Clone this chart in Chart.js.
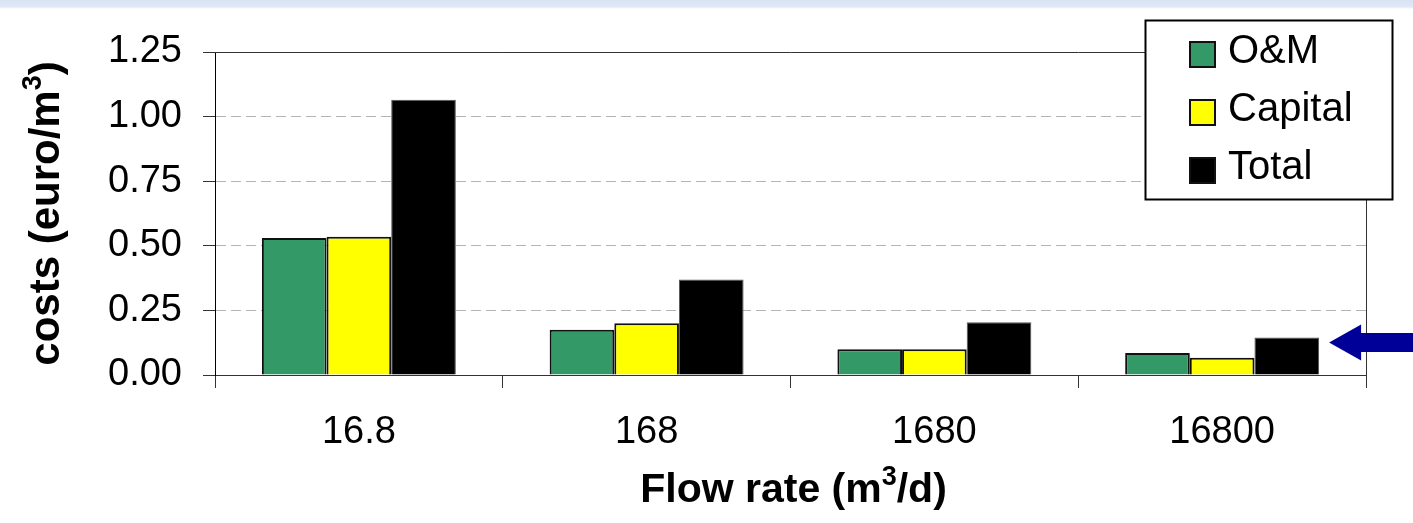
<!DOCTYPE html>
<html>
<head>
<meta charset="utf-8">
<script src="https://cdn.jsdelivr.net/npm/chart.js@4.4.1/dist/chart.umd.min.js"></script>
<style>
  html, body { margin: 0; padding: 0; background: #ffffff; overflow: hidden; }
  #wrap { width: 1413px; height: 523px; }
</style>
</head>
<body>
<div id="wrap"><canvas id="costChart" width="1413" height="523"></canvas></div>
<script>
// Treatment cost per cubic metre at four plant sizes
const flowRates = ['16.8', '168', '1680', '16800'];
const omCosts = [0.53, 0.175, 0.10, 0.085];
const capitalCosts = [0.535, 0.20, 0.10, 0.067];
const totalCosts = [1.065, 0.37, 0.204, 0.145];
const yTickValues = [0, 0.25, 0.50, 0.75, 1.00, 1.25];
const seriesNames = ['O&M', 'Capital', 'Total'];
const seriesColors = ['#339966', '#ffff00', '#000000'];

const FONT = "'Liberation Sans', Arial, sans-serif";

// light slide band along the top edge
const slideBand = {
  id: 'slideBand',
  beforeDraw(chart) {
    const ctx = chart.ctx;
    ctx.save();
    const g = ctx.createLinearGradient(0, 0, 0, 9);
    g.addColorStop(0, '#d8e3f3');
    g.addColorStop(0.75, '#dfe8f5');
    g.addColorStop(1, '#ffffff');
    ctx.fillStyle = g;
    ctx.fillRect(0, 0, chart.width, 9);
    ctx.restore();
  }
};

// plot frame (top and right edges), axis titles, legend box and pointer arrow
const decorations = {
  id: 'decorations',
  beforeDatasetsDraw(chart) {
    const { ctx, chartArea: a } = chart;
    ctx.save();
    ctx.strokeStyle = '#333333';
    ctx.lineWidth = 1;
    ctx.beginPath();
    ctx.moveTo(a.left, Math.round(a.top) + 0.5);
    ctx.lineTo(Math.round(a.right) + 0.5, Math.round(a.top) + 0.5);
    ctx.lineTo(Math.round(a.right) + 0.5, a.bottom);
    ctx.stroke();
    ctx.restore();
  },
  afterDraw(chart) {
    const { ctx, chartArea: a } = chart;
    ctx.save();
    ctx.fillStyle = '#000000';

    // text with a raised "3"
    const fontFor = (p, size) => p.sup ? `bold ${Math.round(size * 0.65)}px ${FONT}` : `bold ${size}px ${FONT}`;
    const drawSup = (parts, x0, y0, size) => {
      let x = x0;
      parts.forEach(p => {
        ctx.font = fontFor(p, size);
        ctx.fillText(p.t, x, p.sup ? y0 - size * 0.42 : y0);
        x += ctx.measureText(p.t).width;
      });
    };
    const measure = (parts, size) => parts.reduce((w, p) => {
      ctx.font = fontFor(p, size);
      return w + ctx.measureText(p.t).width;
    }, 0);

    ctx.textBaseline = 'alphabetic';
    ctx.textAlign = 'left';

    // y-axis title
    const yParts = [{ t: 'costs (euro/m' }, { t: '3', sup: true }, { t: ')' }];
    const yw = measure(yParts, 42);
    ctx.save();
    ctx.translate(59, (a.top + a.bottom) / 2);
    ctx.rotate(-Math.PI / 2);
    drawSup(yParts, -yw / 2, 0, 42);
    ctx.restore();

    // x-axis title
    const xParts = [{ t: 'Flow rate (m' }, { t: '3', sup: true }, { t: '/d)' }];
    const xw = measure(xParts, 41);
    drawSup(xParts, (a.left + a.right) / 2 - xw / 2 + 3, 502, 41);

    // legend
    const lx = 1145, ly = 20, lw = 247, lh = 179;
    ctx.fillStyle = '#ffffff';
    ctx.fillRect(lx, ly, lw, lh);
    ctx.strokeStyle = '#000000';
    ctx.lineWidth = 2;
    ctx.strokeRect(lx + 0.5, ly + 0.5, lw, lh);
    chart.data.datasets.forEach((ds, i) => {
      const cy = ly + 32 + i * 58;
      ctx.fillStyle = ds.backgroundColor;
      ctx.fillRect(lx + 45, cy - 12 + 2, 25, 25);
      ctx.strokeStyle = '#111111';
      ctx.lineWidth = 2;
      ctx.strokeRect(lx + 45, cy - 12 + 2, 25, 25);
      ctx.fillStyle = '#000000';
      ctx.font = `40px ${FONT}`;
      ctx.textBaseline = 'middle';
      ctx.fillText(ds.label, lx + 83, cy);
    });

    // arrow pointing at the total cost of the largest plant
    const meta = chart.getDatasetMeta(2);
    const bar = meta.data[meta.data.length - 1];
    const tipX = bar.x + bar.width / 2 + 10;
    const tipY = bar.y + 5;
    ctx.fillStyle = '#000099';
    ctx.beginPath();
    ctx.moveTo(tipX, tipY);
    ctx.lineTo(tipX + 32, tipY - 18);
    ctx.lineTo(tipX + 32, tipY - 9.5);
    ctx.lineTo(chart.width, tipY - 9.5);
    ctx.lineTo(chart.width, tipY + 9.5);
    ctx.lineTo(tipX + 32, tipY + 9.5);
    ctx.lineTo(tipX + 32, tipY + 18);
    ctx.closePath();
    ctx.fill();

    ctx.restore();
  }
};

const chart = new Chart(document.getElementById('costChart'), {
  type: 'bar',
  data: {
    labels: flowRates,
    datasets: [
      { label: seriesNames[0], data: omCosts, backgroundColor: seriesColors[0], borderColor: '#111111', borderWidth: 2 },
      { label: seriesNames[1], data: capitalCosts, backgroundColor: seriesColors[1], borderColor: '#111111', borderWidth: 2 },
      { label: seriesNames[2], data: totalCosts, backgroundColor: seriesColors[2], borderColor: '#555555', borderWidth: 1 }
    ]
  },
  options: {
    responsive: false,
    animation: false,
    devicePixelRatio: 1,
    layout: { padding: { left: 0, right: 47, top: 52, bottom: 0 } },
    datasets: { bar: { categoryPercentage: 0.674, barPercentage: 1.0 } },
    plugins: { legend: { display: false }, tooltip: { enabled: false } },
    scales: {
      x: {
        grid: { offset: true, drawOnChartArea: false, drawTicks: true, tickLength: 13, color: '#333333', tickColor: '#333333', tickBorderDash: [] },
        border: { display: true, color: '#333333', width: 1 },
        ticks: { color: '#000000', font: { family: FONT, size: 38 }, padding: 22, maxRotation: 0, autoSkip: false },
        afterFit(scale) { scale.height = 148; }
      },
      y: {
        min: 0,
        max: 1.25,
        afterBuildTicks(scale) { scale.ticks = yTickValues.map(v => ({ value: v })); },
        grid: {
          color: c => (c.tick && (c.tick.value === 0 || c.tick.value === 1.25)) ? 'rgba(0,0,0,0)' : '#b4b4b4',
          tickColor: '#333333',
          tickLength: 12,
          tickBorderDash: [],
          lineWidth: 1
        },
        border: { display: true, color: '#000000', width: 1, dash: [10, 5] },
        ticks: { color: '#000000', font: { family: FONT, size: 38 }, padding: 21, callback: v => Number(v).toFixed(2) },
        afterFit(scale) { scale.width = 215; }
      }
    }
  },
  plugins: [slideBand, decorations]
});
</script>
</body>
</html>
